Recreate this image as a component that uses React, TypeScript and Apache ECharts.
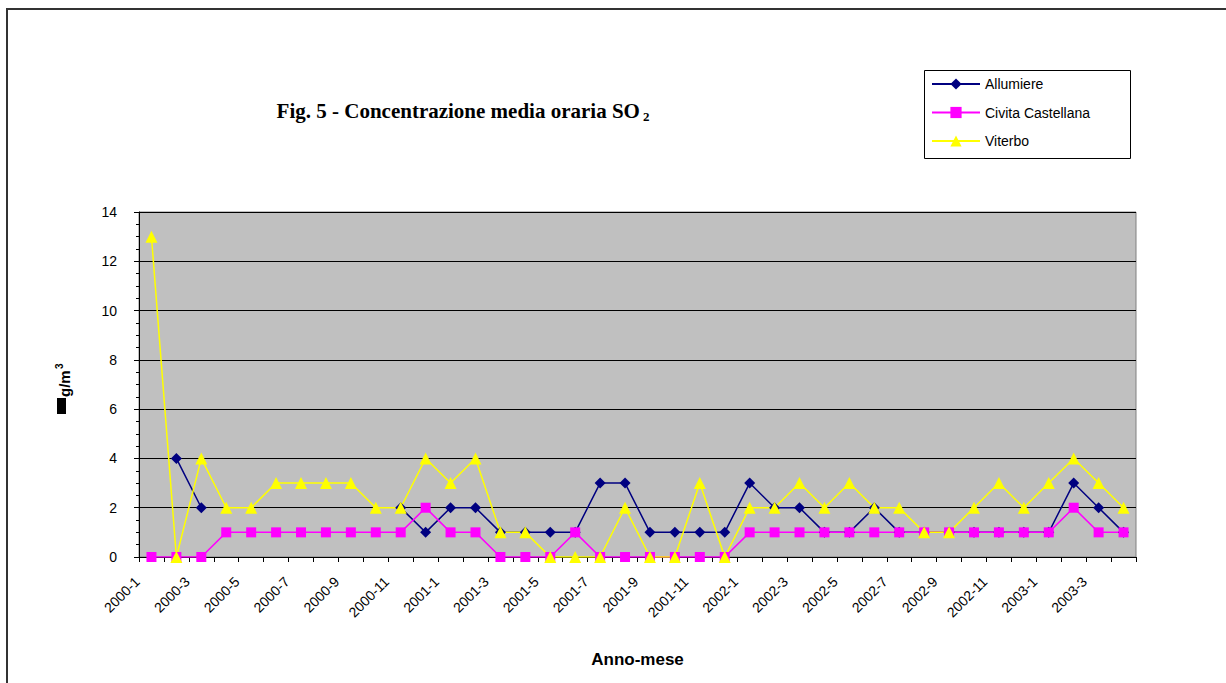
import React, { useEffect, useRef } from "react";
import * as echarts from "echarts";

const categories = [
  "2000-1", "2000-2", "2000-3", "2000-4", "2000-5", "2000-6", "2000-7", "2000-8", "2000-9", "2000-10", "2000-11", "2000-12",
  "2001-1", "2001-2", "2001-3", "2001-4", "2001-5", "2001-6", "2001-7", "2001-8", "2001-9", "2001-10", "2001-11", "2001-12",
  "2002-1", "2002-2", "2002-3", "2002-4", "2002-5", "2002-6", "2002-7", "2002-8", "2002-9", "2002-10", "2002-11", "2002-12",
  "2003-1", "2003-2", "2003-3", "2003-4",
];

const allumiere = [
  null, 4, 2, null, null, null, null, null, null, null, 2, 1, 2, 2,
  1, 1, 1, 1, 3, 3, 1, 1, 1, 1, 3, 2, 2,
  1, 1, 2, 1, 1, 1, 1, 1, 1, 1, 3, 2, 1,
];

const civitaCastellana = [
  0, 0, 0, 1, 1, 1, 1, 1, 1, 1, 1, 2, 1, 1,
  0, 0, 0, 1, 0, 0, 0, 0, 0, 0, 1, 1, 1,
  1, 1, 1, 1, 1, 1, 1, 1, 1, 1, 2, 1, 1,
];

const viterbo = [
  13, 0, 4, 2, 2, 3, 3, 3, 3, 2, 2, 4, 3, 4,
  1, 1, 0, 0, 0, 2, 0, 0, 3, 0, 2, 2, 3,
  2, 3, 2, 2, 1, 1, 2, 3, 2, 3, 4, 3, 2,
];

const SANS = '"Liberation Sans", Arial, sans-serif';
const SERIF = '"Liberation Serif", "Times New Roman", serif';

export default function App() {
  const ref = useRef<HTMLDivElement>(null);

  useEffect(() => {
    if (!ref.current) return;
    const chart = echarts.init(ref.current, null, { renderer: "svg" });
    const mk = (name: string, data: (number | null)[], color: string, symbol: string, size: number) => ({
      name,
      type: "line",
      data,
      symbol,
      symbolSize: size,
      showAllSymbol: true,
      connectNulls: false,
      itemStyle: { color },
      lineStyle: { color, width: 1.5 },
      emphasis: { disabled: true },
    });
    chart.setOption({
      animation: false,
      backgroundColor: "#ffffff",
      textStyle: { fontFamily: SANS },
      grid: {
        left: 139,
        top: 212,
        width: 997,
        height: 345,
        show: true,
        backgroundColor: "#C0C0C0",
        borderColor: "#808080",
        borderWidth: 1,
      },
      legend: {
        orient: "vertical",
        left: 931,
        top: 77,
        padding: 0,
        itemWidth: 48,
        itemHeight: 14,
        itemGap: 14.5,
        z: 10,
        textStyle: { fontSize: 14, color: "#000", fontFamily: SANS },
        data: ["Allumiere", "Civita Castellana", "Viterbo"],
      },
      xAxis: {
        type: "category",
        data: categories,
        boundaryGap: true,
        axisLine: { lineStyle: { color: "#000", width: 1 } },
        axisTick: { show: true, interval: 0, length: 5, lineStyle: { color: "#000" } },
        axisLabel: {
          interval: 1,
          rotate: 45,
          fontSize: 14,
          color: "#000",
          margin: 8,
          padding: [0, 20, 0, 0],
          fontFamily: SANS,
        },
        splitLine: { show: false },
        name: "Anno-mese",
        nameLocation: "middle",
        nameGap: 94,
        nameTextStyle: { fontWeight: "bold", fontSize: 17, color: "#000", fontFamily: SANS },
      },
      yAxis: {
        type: "value",
        min: 0,
        max: 14,
        interval: 2,
        axisLine: { show: true, lineStyle: { color: "#000", width: 1 } },
        axisTick: { show: true, length: 5, lineStyle: { color: "#000" } },
        minorTick: { show: true, splitNumber: 4, length: 3, lineStyle: { color: "#000" } },
        splitLine: { show: true, lineStyle: { color: "#000", width: 1 } },
        axisLabel: { fontSize: 14, color: "#000", margin: 22, fontFamily: SANS },
      },
      graphic: [
        {
          type: "rect",
          z: -10,
          silent: true,
          shape: { x: 7, y: 9, width: 1400, height: 900 },
          style: { fill: "none", stroke: "#333", lineWidth: 2 },
        },
        {
          type: "rect",
          z: 0,
          silent: true,
          shape: { x: 924.5, y: 70.5, width: 206, height: 88 },
          style: { fill: "#fff", stroke: "#000", lineWidth: 1 },
        },
        {
          type: "text",
          x: 463,
          y: 111,
          silent: true,
          style: {
            text: "Fig. 5 - Concentrazione media oraria SO{sub|2}",
            fontFamily: SERIF,
            fontWeight: "bold",
            fontSize: 21,
            fill: "#000",
            align: "center",
            verticalAlign: "middle",
            rich: {
              sub: { fontFamily: SERIF, fontWeight: "bold", fontSize: 13, padding: [11, 0, 0, 3] },
            },
          },
        },
        {
          type: "group",
          x: 57,
          y: 414,
          rotation: Math.PI / 2,
          silent: true,
          children: [
            { type: "rect", shape: { x: 0, y: 0, width: 16, height: 9 }, style: { fill: "#000" } },
            {
              type: "text",
              x: 17,
              y: 0,
              style: {
                text: "g/m",
                fontFamily: SANS,
                fontWeight: "bold",
                fontSize: 15,
                fill: "#000",
                verticalAlign: "top",
              },
            },
            {
              type: "text",
              x: 45,
              y: -3,
              style: {
                text: "3",
                fontFamily: SANS,
                fontWeight: "bold",
                fontSize: 10,
                fill: "#000",
                verticalAlign: "top",
              },
            },
          ],
        },
      ],
      series: [
        mk("Allumiere", allumiere, "#000080", "diamond", 11),
        mk("Civita Castellana", civitaCastellana, "#FF00FF", "rect", 10),
        mk("Viterbo", viterbo, "#FFFF00", "triangle", 12),
      ],
    });
    return () => chart.dispose();
  }, []);

  return (
    <div
      ref={ref}
      style={{ position: "absolute", left: 0, top: 0, width: 1226, height: 683 }}
    />
  );
}
